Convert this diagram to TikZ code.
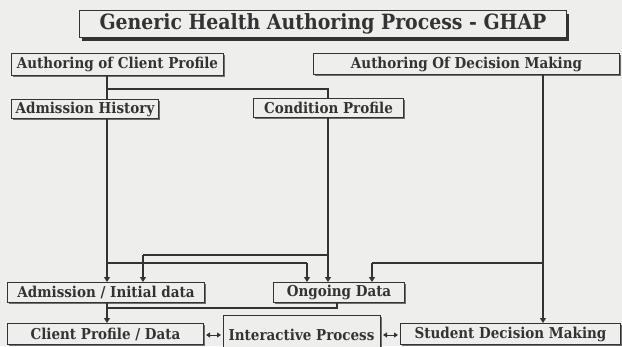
\documentclass[tikz,border=0pt]{standalone}
\usepackage{fontspec}
\setmainfont{DejaVu Serif Condensed}
\usetikzlibrary{arrows.meta,shadows}
\definecolor{ink}{HTML}{333333}
\definecolor{paper}{HTML}{EEEEEC}
\tikzset{
  px/.style={x=1pt,y=-1pt},
  boxfont/.style={font=\bfseries\fontsize{15}{15}\selectfont},
  box/.style={draw=ink, line width=1pt, fill=paper, text=ink, inner sep=0pt,
    boxfont, anchor=north west,
    drop shadow={shadow xshift=1pt, shadow yshift=-1pt, fill=ink!70, opacity=1}},
  titlebox/.style={draw=ink, line width=1pt, fill=paper, text=ink, inner sep=0pt,
    font=\bfseries\fontsize{21}{21}\selectfont, anchor=north west,
    drop shadow={shadow xshift=2.5pt, shadow yshift=-3pt, fill=ink, opacity=1}},
  conn/.style={draw=ink, line width=1.4pt},
  arr/.style={conn, -{Triangle[width=6pt,length=5pt]}},
  dbl/.style={draw=ink, line width=1pt, {Triangle[width=5pt,length=4pt]}-{Triangle[width=5pt,length=4pt]}, shorten <=2pt, shorten >=2pt}
}
\begin{document}
\begin{tikzpicture}[px]
\fill[paper] (0,0) rectangle (622,346);
\useasboundingbox (0,0) rectangle (622,346);
\clip (0,0) rectangle (622,346);
% nodes
\node[titlebox, minimum width=487pt, minimum height=27pt] (title) at (79,10) {Generic Health Authoring Process - GHAP};
\node[box, minimum width=212pt, minimum height=22pt] (acp) at (11,53) {Authoring of Client Profile};
\node[box, minimum width=306pt, minimum height=21pt] (adm) at (313,53) {Authoring Of Decision Making};
\node[box, minimum width=147pt, minimum height=19pt] (ah) at (11,99) {Admission History};
\node[box, minimum width=150pt, minimum height=19pt] (cp) at (253,98) {Condition Profile};
\node[box, minimum width=197pt, minimum height=20pt] (aid) at (7,282) {Admission / Initial data};
\node[box, minimum width=131pt, minimum height=20pt] (od) at (273,282) {Ongoing Data};
\node[box, minimum width=196pt, minimum height=21pt] (cpd) at (7,323) {Client Profile / Data};
\node[box, minimum width=157pt, minimum height=42pt] (ip) at (223,315) {};
\node[boxfont, text=ink, anchor=center] (iptext) at (301.5,335) {Interactive Process};
\node[box, minimum width=220pt, minimum height=21pt] (sdm) at (400,323) {Student Decision Making};
% junction coordinates
\coordinate (xa) at (107,0);
\coordinate (xc) at (328,0);
\coordinate (xd) at (543,0);
\coordinate (j1) at (107,89);
\coordinate (j2) at (107,263);
\coordinate (j3) at (328,255);
\coordinate (j4) at (543,263);
\coordinate (t1) at (143,0);
\coordinate (t2) at (307,0);
\coordinate (t3) at (372,0);
\coordinate (j5) at (337,308);
\coordinate (j6) at (107,308);
% connectors
\draw[conn] (acp.south -| xa) -- (ah.north -| xa);
\draw[conn] (j1) -| (cp.north -| xc);
\draw[arr] (ah.south -| xa) -- (aid.north -| xa);
\draw[conn] (j2) -| (t2 |- j2);
\draw[arr] (t2 |- j2) -- (od.north -| t2);
\draw[arr] (cp.south -| xc) -- (od.north -| xc);
\draw[conn] (j3) -| (t1 |- j3);
\draw[arr] (t1 |- j3) -- (aid.north -| t1);
\draw[arr] (adm.south -| xd) -- (sdm.north -| xd);
\draw[conn] (j4) -- (t3 |- j4);
\draw[arr] (t3 |- j4) -- (od.north -| t3);
\draw[arr] (aid.south -| xa) -- (cpd.north -| xa);
\draw[conn] (od.south -| j5) -- (j5) -- (j6);
\draw[dbl] (cpd.east |- iptext) -- (ip.west |- iptext);
\draw[dbl] (ip.east |- iptext) -- (sdm.west |- iptext);
\end{tikzpicture}
\end{document}
